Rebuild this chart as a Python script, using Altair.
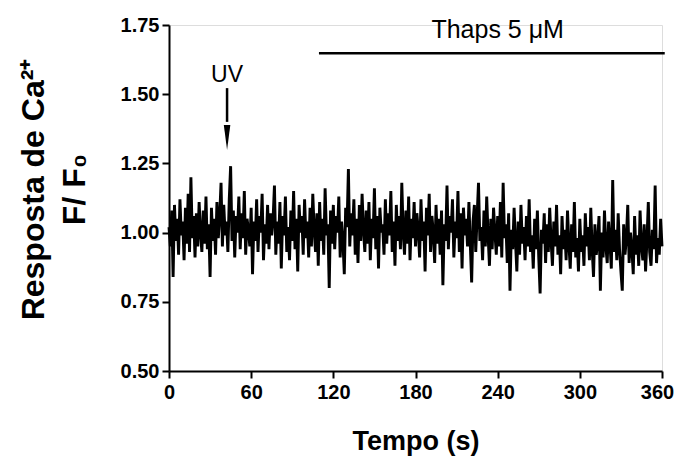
import altair as alt
import pandas as pd

# Ca2+ response (F/F0), one sample per second from 0 to 360 s
ratio = [
    1.02, 0.95, 1.08, 0.84, 1.10, 0.97, 1.05, 0.92, 1.12, 0.99, 1.04, 0.90, 1.09, 0.96, 1.14, 0.93, 1.20, 0.98, 1.06, 0.91,
    1.07, 0.95, 1.11, 1.00, 0.93, 1.08, 0.96, 1.13, 0.94, 1.03, 0.84, 1.09, 0.97, 1.05, 0.92, 1.11, 0.98, 1.06, 1.18, 0.95,
    1.10, 0.99, 1.04, 0.93, 1.12, 1.24, 0.97, 1.08, 0.91, 1.06, 1.00, 1.13, 0.94, 1.07, 0.98, 1.15, 0.92, 1.05, 1.01, 0.95,
    1.09, 0.85, 1.04, 0.97, 1.12, 0.93, 1.06, 1.00, 1.14, 0.90, 1.03, 0.96, 1.10, 0.94, 1.07, 0.99, 1.05, 1.17, 0.92, 1.04,
    0.96, 1.11, 0.87, 1.06, 0.99, 1.13, 0.93, 1.02, 0.90, 1.08, 0.97, 1.15, 0.94, 1.05, 0.86, 1.10, 1.00, 1.06, 0.92, 1.12,
    0.98, 1.04, 0.91, 1.09, 0.95, 1.14, 1.01, 0.93, 1.07, 0.88, 1.11, 0.97, 1.05, 0.92, 1.16, 0.99, 1.03, 0.80, 1.08, 0.96,
    1.10, 0.94, 1.06, 1.00, 1.13, 0.91, 1.04, 0.97, 0.85, 1.09, 1.02, 1.23, 0.95, 1.07, 0.99, 1.12, 0.92, 1.05, 0.89, 1.10,
    0.97, 1.14, 1.01, 0.93, 1.08, 0.96, 1.11, 0.90, 1.05, 0.98, 1.16, 0.94, 1.06, 0.87, 1.09, 1.00, 1.03, 0.92, 1.12, 0.96,
    1.07, 0.99, 1.15, 0.93, 1.04, 0.88, 1.10, 0.97, 1.06, 0.94, 1.18, 1.00, 0.92, 1.08, 0.96, 1.13, 0.90, 1.05, 0.98, 1.11,
    0.95, 1.07, 1.01, 0.91, 1.12, 0.97, 1.04, 0.86, 1.09, 0.99, 1.14, 0.93, 1.06, 1.00, 0.89, 1.10, 0.96, 1.05, 0.92, 1.08,
    0.81, 1.03, 0.97, 1.17, 0.94, 1.06, 1.00, 1.12, 0.91, 1.04, 0.98, 1.15, 0.93, 1.07, 0.87, 1.09, 0.99, 1.05, 0.95, 1.11,
    0.96, 0.82, 1.04, 1.10, 0.93, 1.06, 1.18, 0.97, 1.02, 0.90, 1.08, 0.95, 1.13, 0.99, 0.88, 1.05, 0.94, 1.09, 1.00, 0.92,
    1.06, 0.95, 1.11, 0.91, 1.18, 0.98, 1.03, 0.89, 1.07, 0.79, 1.01, 0.94, 1.09, 0.97, 0.86, 1.04, 0.92, 1.10, 0.96, 1.02,
    0.90, 1.06, 0.95, 1.12, 0.93, 0.99, 0.87, 1.05, 0.94, 1.08, 0.91, 0.78, 1.01, 0.96, 1.07, 0.89, 1.03, 0.93, 1.09, 0.97,
    0.88, 1.04, 0.95, 1.10, 0.92, 0.99, 0.85, 1.06, 0.94, 1.01, 0.90, 1.08, 0.96, 0.87, 1.03, 0.93, 1.11, 0.91, 0.98, 0.86,
    1.05, 0.93, 0.99, 0.88, 1.07, 0.95, 1.02, 0.90, 1.09, 0.94, 0.84, 1.03, 0.92, 0.97, 1.06, 0.79, 1.00, 0.91, 1.08, 0.95,
    0.89, 1.04, 0.96, 0.87, 1.19, 0.93, 1.01, 0.90, 1.07, 0.94, 0.86, 0.79, 1.03, 0.92, 0.98, 1.10, 0.89, 1.00, 0.94, 0.85,
    1.06, 0.92, 0.99, 0.88, 1.08, 0.95, 0.90, 1.03, 0.86, 0.97, 1.11, 0.93, 0.88, 1.01, 0.94, 1.17, 0.89, 0.98, 0.92, 1.05,
    0.95,
]
t_end = 360
times = [i * t_end / (len(ratio) - 1) for i in range(len(ratio))]

x_ticks = [0, 60, 120, 180, 240, 300, 360]
y_ticks = [0.50, 0.75, 1.00, 1.25, 1.50, 1.75]

uv_time = [42.4]
uv_label_y = [1.569]
uv_arrow_top = [1.522]
uv_arrow_end = [1.40]
uv_arrow_head = [1.344]

thaps_start = [109.5]
thaps_end = [362]
thaps_y = [1.648]
thaps_label_x = [240]
thaps_label_y = [1.733]

trace_df = pd.DataFrame({"t": times, "r": ratio})

xscale = alt.Scale(domain=[0, 360], nice=False, zero=False)
yscale = alt.Scale(domain=[0.5, 1.75], nice=False, zero=False)

x_axis = alt.Axis(
    values=x_ticks, title="Tempo (s)", grid=False, labelFontSize=20, labelFontWeight="bold",
    labelFont="Liberation Sans", labelColor="black", titleFont="Liberation Sans", titleFontSize=27,
    titleFontWeight="bold", titleColor="black", titlePadding=26, domainColor="black", domainWidth=2,
    tickColor="black", tickWidth=2, tickSize=7, labelPadding=4, labelFlush=False,
    labelOffset={"condition": {"test": "datum.value === 360", "value": -5}, "value": 0},
)
y_axis = alt.Axis(
    values=y_ticks, format=".2f", title=["Resposta de Ca²⁺", "F/ F₀"], grid=False, labelFontSize=20,
    labelFontWeight="bold", labelFont="Liberation Sans", labelColor="black", titleFont="Liberation Sans",
    titleFontSize=32, titleFontWeight="bold", titleColor="black", titleLineHeight=41,
    titleX=-126, titleY=164, titleBaseline="alphabetic",
    domainColor="black", domainWidth=2, tickColor="black", tickWidth=2, tickSize=7, labelPadding=3,
    labelFlush=False,
)

trace = alt.Chart(trace_df).mark_line(color="black", strokeWidth=2.9).encode(
    x=alt.X("t:Q", scale=xscale, axis=x_axis),
    y=alt.Y("r:Q", scale=yscale, axis=y_axis),
)

uv_df = pd.DataFrame({"t": uv_time, "top": uv_arrow_top, "end": uv_arrow_end,
                      "head": uv_arrow_head, "ly": uv_label_y, "label": ["UV"]})
uv_shaft = alt.Chart(uv_df).mark_rule(color="black", strokeWidth=2.5).encode(
    x=alt.X("t:Q", scale=xscale), y=alt.Y("top:Q", scale=yscale), y2="end:Q")
uv_head = alt.Chart(uv_df).mark_point(shape="M-0.26,-1L0.26,-1L0,1Z", filled=True, color="black",
                                       size=625, opacity=1, strokeWidth=0).encode(
    x=alt.X("t:Q", scale=xscale), y=alt.Y("head:Q", scale=yscale))
uv_text = alt.Chart(uv_df).mark_text(font="Liberation Sans", fontSize=23, color="black",
                                      baseline="middle").encode(
    x=alt.X("t:Q", scale=xscale), y=alt.Y("ly:Q", scale=yscale), text="label:N")

th_df = pd.DataFrame({"x1": thaps_start, "x2": thaps_end, "y": thaps_y,
                      "lx": thaps_label_x, "ly": thaps_label_y, "label": ["Thaps 5 μM"]})
th_rule = alt.Chart(th_df).mark_rule(color="black", strokeWidth=2.5, clip=False).encode(
    x=alt.X("x1:Q", scale=xscale), x2="x2:Q", y=alt.Y("y:Q", scale=yscale))
th_text = alt.Chart(th_df).mark_text(font="Liberation Sans", fontSize=25, color="black",
                                      baseline="middle").encode(
    x=alt.X("lx:Q", scale=xscale), y=alt.Y("ly:Q", scale=yscale), text="label:N")

chart = alt.layer(trace, uv_shaft, uv_head, uv_text, th_rule, th_text).properties(
    width=493, height=346,
    padding={"left": 161, "top": 17, "right": 12, "bottom": 93},
    autosize="none",
).configure_view(stroke=None).configure(background="white")

chart.save("out.html", embed_options={"renderer": "svg", "actions": False})
